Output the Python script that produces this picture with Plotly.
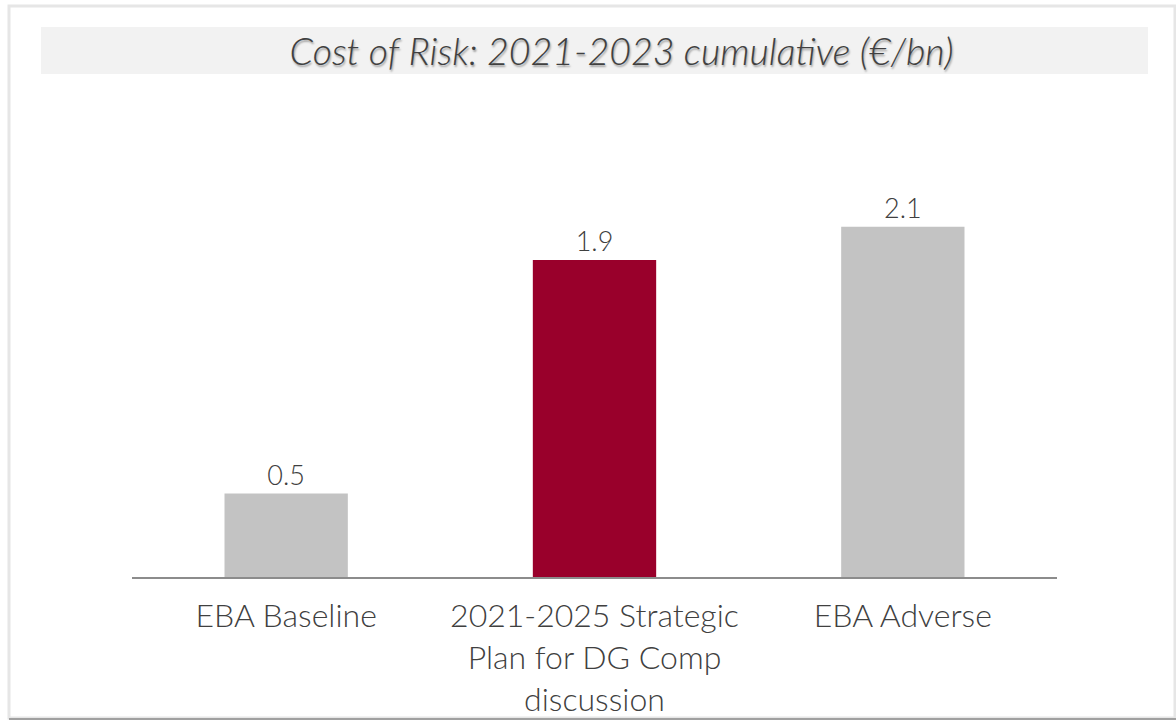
import plotly.graph_objects as go

# Cost of risk, 2021-2023 cumulative, in € bn
categories = ["EBA Baseline", "2021-2025 Strategic<br>Plan for DG Comp<br>discussion", "EBA Adverse"]
values = [0.5, 1.9, 2.1]
bar_colors = ["#c3c3c3", "#99002b", "#c3c3c3"]
title_text = "Cost of Risk: 2021-2023 cumulative (€/bn)"

W, H = 1176, 722
L, R, T, B = 132, 119, 160, 145

LIGHT = "Lato Light, Lato, sans-serif"

def px_x(x):
    return (x - L) / (W - L - R)

def px_y(y):
    return 1 - (y - T) / (H - T - B)

fig = go.Figure(
    go.Bar(
        x=categories,
        y=values,
        width=0.4,
        marker=dict(color=bar_colors, line=dict(width=0)),
        text=[f"{v:.1f}" for v in values],
        textposition="outside",
        textfont=dict(family=LIGHT, size=27, weight=300, color="#404040"),
        cliponaxis=False,
    )
)

shapes = [
    # outer card frame
    dict(type="rect", xref="paper", yref="paper", layer="below",
         x0=px_x(9), x1=px_x(1175), y0=px_y(718), y1=px_y(6),
         line=dict(color="#e6e6e6", width=3), fillcolor="white"),
    dict(type="line", xref="paper", yref="paper",
         x0=px_x(9), x1=px_x(1176), y0=px_y(719), y1=px_y(719),
         line=dict(color="#a0a0a0", width=2)),
    # title band
    dict(type="rect", xref="paper", yref="paper", layer="below",
         x0=px_x(41), x1=px_x(1148), y0=px_y(74), y1=px_y(27),
         line=dict(width=0), fillcolor="#f2f2f2"),
]

fig.update_layout(
    width=W, height=H,
    margin=dict(l=L, r=R, t=T, b=B, pad=0, autoexpand=False),
    paper_bgcolor="white",
    plot_bgcolor="rgba(0,0,0,0)",
    showlegend=False,
    shapes=shapes,
    title=dict(
        text=title_text,
        x=px_x(621.5), xref="paper", xanchor="center",
        y=1 - 52 / H, yref="container", yanchor="middle",
        automargin=False,
        font=dict(family=LIGHT, size=37.5, style="italic", weight=300, color="#404040",
                  shadow="1px 2px 2px rgba(0,0,0,0.35)"),
    ),
    xaxis=dict(
        showline=True, linecolor="#8c8c8c", linewidth=2,
        showgrid=False, zeroline=False, ticks="",
        tickfont=dict(family=LIGHT, size=32, weight=300, color="#404040"),
        ticklabelstandoff=10,
        automargin=False,
        fixedrange=True,
    ),
    yaxis=dict(
        range=[0, 2.5], visible=False, showgrid=False, zeroline=False,
        automargin=False,
        fixedrange=True,
    ),
)

fig.write_html("out.html")
